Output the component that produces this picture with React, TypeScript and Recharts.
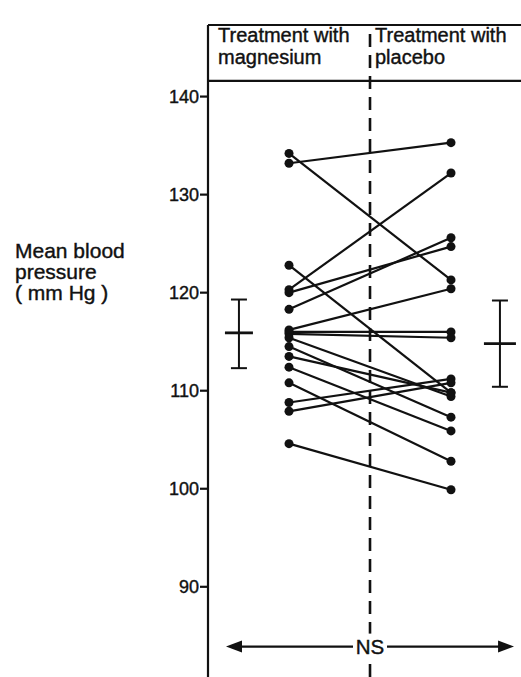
import React from "react";
import {
  ComposedChart,
  Scatter,
  XAxis,
  YAxis,
  ReferenceLine,
  ErrorBar,
} from "recharts";

// paired readings, one entry per patient (mm Hg)
const magnesium = [
  134.2, 133.2, 122.8, 120.3, 120.0, 118.3, 116.2, 116.0, 115.8, 115.4, 114.5,
  113.5, 112.4, 110.8, 108.8, 107.9, 104.6,
];
const placebo = [
  121.3, 135.3, 109.8, 132.2, 124.7, 125.6, 120.4, 116.0, 115.4, 109.4, 107.3,
  109.8, 105.9, 102.8, 111.2, 110.8, 99.9,
];

// group mean with [below, above] spread
const groupMeans = [115.9, 114.8];
const groupSpread = [
  [3.6, 3.4],
  [4.4, 4.4],
];

const yTicks = [90, 100, 110, 120, 130, 140];
const headerMg = ["Treatment with", "magnesium"];
const headerPl = ["Treatment with", "placebo"];
const yTitle = ["Mean blood", "pressure", "( mm Hg )"];
const sigLabel = "NS";

const INK = "#111";
const FONT = "'Liberation Sans', Arial, sans-serif";

// x positions in axis units
const X_MG = 1;
const X_PL = 2;
const X_MID = 1.5;

const pairs = magnesium.map((m, i) => [
  { x: X_MG, y: m },
  { x: X_PL, y: placebo[i] },
]);

const meanMg = [{ x: 0.691, y: groupMeans[0], err: groupSpread[0] }];
const meanPl = [{ x: 2.302, y: groupMeans[1], err: groupSpread[1] }];

const Dot = (p: any) => <circle cx={p.cx} cy={p.cy} r={4.5} fill={INK} />;

const meanShape = (half: number) => (p: any) =>
  (
    <line
      x1={p.cx - half}
      x2={p.cx + half}
      y1={p.cy}
      y2={p.cy}
      stroke={INK}
      strokeWidth={2.8}
    />
  );

const NsArrow = (p: any) => {
  const { x1, x2, y1 } = p;
  const mid = (x1 + x2) / 2;
  const gap = 18;
  const head = 16;
  const hh = 6;
  return (
    <g>
      <rect x={mid - gap} y={y1 - 13} width={gap * 2} height={26} fill="#fff" />
      <line x1={x1 + head - 2} x2={mid - gap + 1} y1={y1} y2={y1} stroke={INK} strokeWidth={2.2} />
      <line x1={mid + gap - 1} x2={x2 - head + 2} y1={y1} y2={y1} stroke={INK} strokeWidth={2.2} />
      <polygon points={`${x1},${y1} ${x1 + head},${y1 - hh} ${x1 + head},${y1 + hh}`} fill={INK} />
      <polygon points={`${x2},${y1} ${x2 - head},${y1 - hh} ${x2 - head},${y1 + hh}`} fill={INK} />
      <text
        x={mid}
        y={y1 + 7.5}
        textAnchor="middle"
        fontSize={20.5}
        fontFamily={FONT}
        fill={INK}
        stroke={INK}
        strokeWidth={0.4}
      >
        {sigLabel}
      </text>
    </g>
  );
};

const textBlock = (lines: string[], left: number, top: number, size: number, lh: number) => (
  <div
    style={{
      position: "absolute",
      left,
      top,
      fontSize: size,
      lineHeight: `${lh}px`,
      fontFamily: FONT,
      color: INK,
      whiteSpace: "nowrap",
      WebkitTextStroke: "0.4px #111",
    }}
  >
    {lines.map((l) => (
      <div key={l}>{l}</div>
    ))}
  </div>
);

export default function App() {
  return (
    <div
      style={{
        position: "absolute",
        left: 0,
        top: 0,
        width: 521,
        height: 677,
        background: "#fff",
        overflow: "hidden",
        fontFamily: FONT,
      }}
    >
      <ComposedChart
        width={521}
        height={677}
        margin={{ top: 25, right: 0, bottom: 0, left: 0 }}
      >
        <XAxis
          hide
          type="number"
          dataKey="x"
          domain={[0.5, 2.432]}
          allowDataOverflow
        />
        <YAxis
          type="number"
          dataKey="y"
          width={208}
          domain={[80.8, 147.3]}
          allowDataOverflow
          ticks={yTicks}
          interval={0}
          tickSize={8}
          tickMargin={1}
          axisLine={{ stroke: INK, strokeWidth: 2.2 }}
          tickLine={{ stroke: INK, strokeWidth: 2.2 }}
          tick={{ fill: INK, fontSize: 18, fontFamily: FONT, stroke: INK, strokeWidth: 0.4 }}
        />
        <ReferenceLine y={147.3} stroke={INK} strokeWidth={2.2} />
        <ReferenceLine y={141.6} stroke={INK} strokeWidth={2.2} />
        <ReferenceLine
          x={X_MID}
          stroke={INK}
          strokeWidth={2.6}
          strokeDasharray="13 8"
        />
        {pairs.map((d, i) => (
          <Scatter
            key={i}
            data={d}
            line={{ stroke: INK, strokeWidth: 2.2 }}
            shape={Dot}
            isAnimationActive={false}
          />
        ))}
        <Scatter data={meanMg} shape={meanShape(14)} isAnimationActive={false}>
          <ErrorBar dataKey="err" direction="y" width={8} stroke={INK} strokeWidth={2} />
        </Scatter>
        <Scatter data={meanPl} shape={meanShape(16)} isAnimationActive={false}>
          <ErrorBar dataKey="err" direction="y" width={8} stroke={INK} strokeWidth={2} />
        </Scatter>
        <ReferenceLine
          segment={[
            { x: 0.611, y: 83.9 },
            { x: 2.389, y: 83.9 },
          ]}
          shape={NsArrow}
        />
      </ComposedChart>
      {textBlock(headerMg, 218, 24, 20, 22)}
      {textBlock(headerPl, 375, 24, 20, 22)}
      {textBlock(yTitle, 15, 240, 21, 21)}
    </div>
  );
}
